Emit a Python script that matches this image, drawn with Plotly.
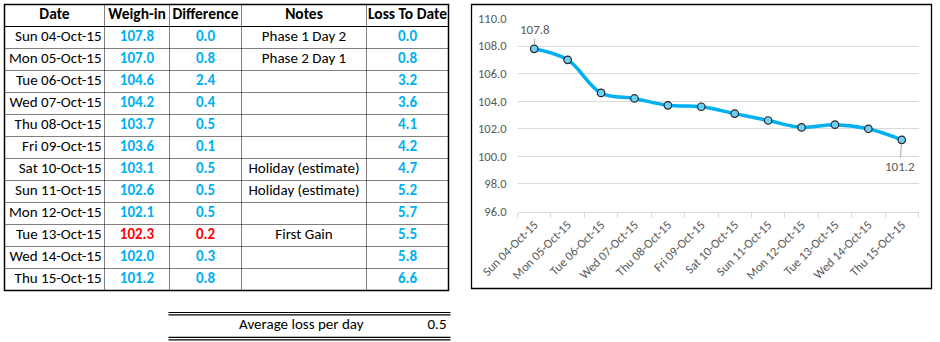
import plotly.graph_objects as go

# ---------------- data ----------------
dates = ["Sun 04-Oct-15", "Mon 05-Oct-15", "Tue 06-Oct-15", "Wed 07-Oct-15",
         "Thu 08-Oct-15", "Fri 09-Oct-15", "Sat 10-Oct-15", "Sun 11-Oct-15",
         "Mon 12-Oct-15", "Tue 13-Oct-15", "Wed 14-Oct-15", "Thu 15-Oct-15"]
weigh_in = [107.8, 107.0, 104.6, 104.2, 103.7, 103.6, 103.1, 102.6, 102.1, 102.3, 102.0, 101.2]
difference = [0.0, 0.8, 2.4, 0.4, 0.5, 0.1, 0.5, 0.5, 0.5, 0.2, 0.3, 0.8]
notes = ["Phase 1 Day 2", "Phase 2 Day 1", "", "", "", "", "Holiday (estimate)",
         "Holiday (estimate)", "", "First Gain", "", ""]
loss_to_date = [0.0, 0.8, 3.2, 3.6, 4.1, 4.2, 4.7, 5.2, 5.7, 5.5, 5.8, 6.6]
headers = ["Date", "Weigh-in", "Difference", "Notes", "Loss To Date"]
avg_label = "Average loss per day"
avg_loss = 0.5
y_ticks = [96, 98, 100, 102, 104, 106, 108, 110]

# ---------------- styling constants ----------------
W, H = 940, 342
BLUE = "#00B0F0"
RED = "#FF0000"
GREY = "#595959"
FONT = "Carlito, Calibri, Lato, Roboto, sans-serif"
col_edges = [4.5, 104.5, 169.5, 241.5, 366.5, 448.5]   # table column boundaries (px)
row_top, row_h = 4.5, 22.0                             # table rows (px)
n_rows = len(dates)

def col_center(c):
    return (col_edges[c] + col_edges[c + 1]) / 2

fig = go.Figure()

# ---------------- table (on its own hidden axes x2/y2, rows as units) ----------------
row_y = [i + 1.5 for i in range(n_rows)]
gain = [i > 0 and weigh_in[i] > weigh_in[i - 1] for i in range(n_rows)]
num_colors = [RED if g else BLUE for g in gain]

def text_trace(xs, ys, texts, color, bold=False, pos="middle center", size=15):
    return go.Scatter(
        x=xs, y=ys, text=texts, mode="text", textposition=pos,
        xaxis="x2", yaxis="y2", cliponaxis=False,
        textfont=dict(family=FONT, size=size, color=color, weight="bold" if bold else "normal"),
        hoverinfo="skip", showlegend=False)

fig.add_trace(text_trace([col_center(c) for c in range(5)], [0.5] * 5, headers, "black", True, size=15.5))
fig.add_trace(text_trace([col_edges[1] - 3] * n_rows, row_y, dates, "black", pos="middle left"))
fig.add_trace(text_trace([col_center(1)] * n_rows, row_y, [f"{v:.1f}" for v in weigh_in], num_colors, True))
fig.add_trace(text_trace([col_center(2)] * n_rows, row_y, [f"{v:.1f}" for v in difference], num_colors, True))
fig.add_trace(text_trace([col_center(3)] * n_rows, row_y, notes, "black"))
fig.add_trace(text_trace([col_center(4)] * n_rows, row_y, [f"{v:.1f}" for v in loss_to_date], BLUE, True))
avg_y = 14.6
fig.add_trace(text_trace([col_edges[4] - 3, col_edges[5] - 2], [avg_y, avg_y],
                         [avg_label, f"{avg_loss:.1f}"], "black", pos="middle left"))

shapes = []
DOT = dict(color="black", width=1, dash="1px,1px")
SOLID = dict(color="black", width=1)
for k in range(2, n_rows + 1):
    shapes.append(dict(type="line", xref="x2", yref="y2", x0=col_edges[0], x1=col_edges[-1],
                       y0=k, y1=k, line=DOT))
for c in range(1, 5):
    shapes.append(dict(type="line", xref="x2", yref="y2", x0=col_edges[c], x1=col_edges[c],
                       y0=0, y1=n_rows + 1, line=DOT))
shapes.append(dict(type="line", xref="x2", yref="y2", x0=col_edges[0], x1=col_edges[-1],
                   y0=1, y1=1, line=SOLID))
shapes.append(dict(type="rect", xref="x2", yref="y2", x0=col_edges[0], x1=col_edges[-1],
                   y0=0, y1=n_rows + 1, line=dict(color="black", width=1.5)))
for yy in [14.0, 14.11, 15.13, 15.24]:
    shapes.append(dict(type="line", xref="x2", yref="y2", x0=col_edges[2] - 1, x1=col_edges[-1] + 2,
                       y0=yy, y1=yy, line=dict(color="black", width=1.2)))

# chart border box (paper coords)
shapes.append(dict(type="rect", xref="paper", yref="paper",
                   x0=471.5 / W, x1=931.5 / W, y0=1 - 288.5 / H, y1=1 - 4.5 / H,
                   line=dict(color="black", width=1.3)))

# ---------------- line chart ----------------
fig.add_trace(go.Scatter(
    x=dates, y=weigh_in, mode="lines+markers",
    line=dict(color=BLUE, width=3.5, shape="spline", smoothing=1.0),
    marker=dict(size=7.5, color="#6FD0F5", line=dict(color="#262626", width=1.2)),
    hoverinfo="x+y", showlegend=False))

annotations = [
    dict(x=dates[0], y=weigh_in[0], xref="x", yref="y", text=f"{weigh_in[0]:.1f}",
         showarrow=True, arrowhead=0, arrowwidth=1, arrowcolor="#a6a6a6", standoff=4,
         ax=1, ay=-19, font=dict(family=FONT, size=13, color=GREY)),
    dict(x=dates[-1], y=weigh_in[-1], xref="x", yref="y", text=f"{weigh_in[-1]:.1f}",
         showarrow=True, arrowhead=0, arrowwidth=1, arrowcolor="#a6a6a6", standoff=4,
         ax=-2, ay=27, font=dict(family=FONT, size=13, color=GREY)),
]

row_range = [(H - row_top) / row_h, -row_top / row_h]

fig.update_layout(
    width=W, height=H, margin=dict(l=0, r=0, t=0, b=0, pad=0, autoexpand=False),
    paper_bgcolor="white", plot_bgcolor="rgba(0,0,0,0)",
    shapes=shapes, annotations=annotations,
    xaxis=dict(domain=[517.5 / W, 918.5 / W], type="category", anchor="y",
               range=[-0.5, len(dates) - 0.5],
               tickangle=-45, tickson="boundaries", ticks="outside", ticklen=5,
               tickcolor="#d9d9d9", showline=True, linecolor="#d9d9d9", linewidth=1,
               showgrid=False, tickfont=dict(family=FONT, size=12.5, color=GREY),
               automargin=False, fixedrange=True),
    yaxis=dict(domain=[1 - 211.5 / H, 1 - 18.5 / H], range=[96, 110], anchor="x",
               tickvals=y_ticks, tickformat=".1f",
               showgrid=True, gridcolor="#d9d9d9", gridwidth=1, zeroline=False,
               showline=False, ticks="", ticklabelstandoff=10,
               tickfont=dict(family=FONT, size=12.5, color=GREY),
               automargin=False, fixedrange=True),
    xaxis2=dict(domain=[0, 1], range=[0, W], visible=False, fixedrange=True, anchor="y2",
                automargin=False),
    yaxis2=dict(domain=[0, 1], range=row_range, visible=False, fixedrange=True, anchor="x2",
                automargin=False),
)

fig.write_html("out.html")
